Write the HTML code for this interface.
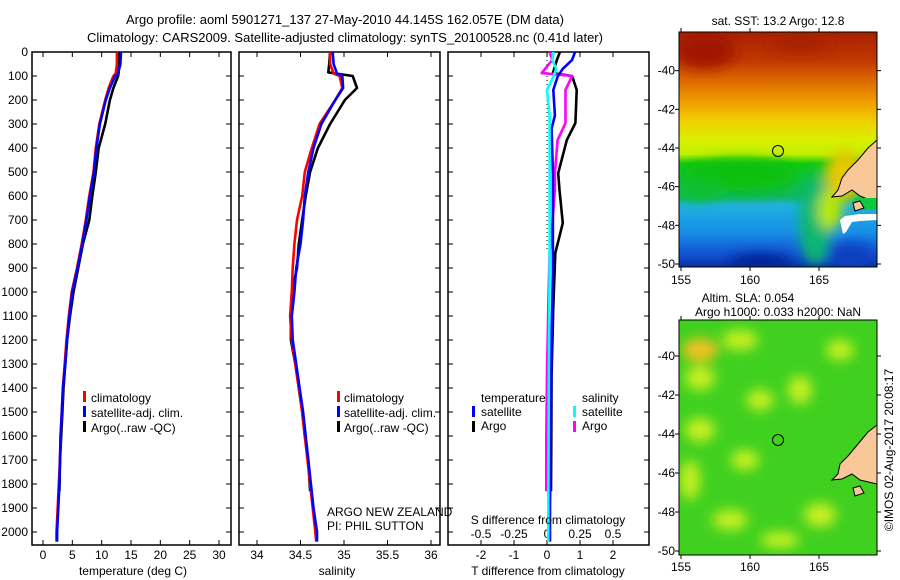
<!DOCTYPE html>
<html><head><meta charset="utf-8">
<style>
html,body{margin:0;padding:0;background:#fff;}
svg{display:block;font-family:"Liberation Sans",sans-serif;}
text{font-size:12px;fill:#000;}
</style></head>
<body>
<svg id="chart" width="900" height="580" viewBox="0 0 900 580" xmlns="http://www.w3.org/2000/svg">
<defs>
 <linearGradient id="sstGrad" x1="0" y1="0" x2="0" y2="1">
  <stop offset="0" stop-color="#a82000"/>
  <stop offset="0.12" stop-color="#c03800"/>
  <stop offset="0.22" stop-color="#e07000"/>
  <stop offset="0.3" stop-color="#f0a000"/>
  <stop offset="0.38" stop-color="#f0d000"/>
  <stop offset="0.46" stop-color="#d8f000"/>
  <stop offset="0.52" stop-color="#c0f000"/>
  <stop offset="0.56" stop-color="#10c810"/>
  <stop offset="0.7" stop-color="#10b860"/>
  <stop offset="0.74" stop-color="#20b0e0"/>
  <stop offset="0.85" stop-color="#1890e8"/>
  <stop offset="0.95" stop-color="#1050d0"/>
  <stop offset="1" stop-color="#0830a0"/>
 </linearGradient>
 <clipPath id="clipTop"><rect x="679" y="32" width="198" height="235"/></clipPath>
 <clipPath id="clipBot"><rect x="679" y="320" width="198" height="235"/></clipPath>
 <filter id="blur6"><feGaussianBlur stdDeviation="6"/></filter>
</defs>

<text x="345" y="24" text-anchor="middle" style="font-size:13px">Argo profile: aoml 5901271_137 27-May-2010 44.145S 162.057E (DM data)</text>
<text x="345" y="42" text-anchor="middle" style="font-size:13px">Climatology: CARS2009. Satellite-adjusted climatology: synTS_20100528.nc (0.41d later)</text>

<g id="p1"></g>
<g id="p2"></g>
<g id="p3"></g>

<g>
 <rect x="83" y="391" width="3" height="11" fill="#f00"/><text x="91" y="402">climatology</text>
 <rect x="83" y="406" width="3" height="11" fill="#00f"/><text x="91" y="417">satellite-adj. clim.</text>
 <rect x="83" y="421" width="3" height="11" fill="#000"/><text x="91" y="432">Argo(..raw -QC)</text>
</g>
<g>
 <rect x="337" y="391" width="3" height="11" fill="#f00"/><text x="344" y="402">climatology</text>
 <rect x="337" y="406" width="3" height="11" fill="#00f"/><text x="344" y="417">satellite-adj. clim.</text>
 <rect x="337" y="421" width="3" height="11" fill="#000"/><text x="344" y="432">Argo(..raw -QC)</text>
</g>
<g>
 <text x="481" y="402">temperature</text>
 <text x="582" y="402">salinity</text>
 <rect x="472" y="406" width="3" height="11" fill="#00f"/><text x="481" y="416">satellite</text>
 <rect x="472" y="421" width="3" height="11" fill="#000"/><text x="481" y="430">Argo</text>
 <rect x="573" y="406" width="3" height="11" fill="#0ff"/><text x="582" y="416">satellite</text>
 <rect x="573" y="421" width="3" height="11" fill="#f0f"/><text x="582" y="430">Argo</text>
</g>
<text x="327" y="516">ARGO NEW ZEALAND</text>
<text x="327" y="530">PI: PHIL SUTTON</text>

<g>
 <text x="778" y="25" text-anchor="middle">sat. SST: 13.2 Argo: 12.8</text>
 <g clip-path="url(#clipTop)">
  <rect x="679" y="32" width="198" height="235" fill="url(#sstGrad)"/>
  <g filter="url(#blur6)">
   <ellipse cx="705" cy="50" rx="30" ry="18" fill="#a01800"/>
   <ellipse cx="800" cy="42" rx="30" ry="10" fill="#a82000"/>
   <ellipse cx="740" cy="175" rx="55" ry="16" fill="#10c010"/>
   <ellipse cx="700" cy="190" rx="25" ry="10" fill="#10c030"/>
   <ellipse cx="815" cy="220" rx="16" ry="45" fill="#10b870"/>
   <ellipse cx="760" cy="262" rx="30" ry="8" fill="#002090"/>
   <ellipse cx="850" cy="255" rx="25" ry="12" fill="#1040c0"/>
   <ellipse cx="845" cy="175" rx="20" ry="25" fill="#e8c800"/>
   <ellipse cx="830" cy="210" rx="12" ry="20" fill="#b8e800"/>
  </g>
  <path d="M877,140 L868,148 L858,160 L848,170 L842,178 L838,190 L832,197 L842,196 L852,190 L860,196 L870,200 L877,200 Z" fill="#f8c898" stroke="#000" stroke-width="1"/>
  <path d="M855,198 L877,198 L877,210 L852,210 Z" fill="#10c840"/>
  <path d="M845,216 L860,214 L877,214 L877,220 L860,221 L852,222 L846,232 L843,234 L840,220 Z" fill="#ffffff"/>
  <path d="M853,203 L860,201 L864,208 L855,211 Z" fill="#f8c898" stroke="#000" stroke-width="1"/>
 </g>
 <rect x="679" y="32" width="198" height="235" fill="none" stroke="#000" stroke-width="1"/>
 <circle cx="778" cy="151" r="5.5" fill="none" stroke="#000" stroke-width="1"/>
</g>

<g>
 <text x="748" y="302" text-anchor="middle">Altim. SLA: 0.054</text>
 <text x="778" y="316" text-anchor="middle">Argo h1000: 0.033 h2000: NaN</text>
 <g clip-path="url(#clipBot)">
  <rect x="679" y="320" width="198" height="235" fill="#40d020"/>
  <g filter="url(#blur6)" fill="#c8f020">
   <ellipse cx="700" cy="350" rx="18" ry="12" fill="#f0c020"/>
   <ellipse cx="740" cy="340" rx="18" ry="10"/>
   <ellipse cx="700" cy="378" rx="15" ry="12"/>
   <ellipse cx="760" cy="400" rx="14" ry="10"/>
   <ellipse cx="700" cy="430" rx="15" ry="12"/>
   <ellipse cx="745" cy="460" rx="14" ry="10"/>
   <ellipse cx="800" cy="390" rx="12" ry="14"/>
   <ellipse cx="820" cy="515" rx="16" ry="12"/>
   <ellipse cx="730" cy="520" rx="18" ry="10"/>
   <ellipse cx="690" cy="480" rx="10" ry="20"/>
   <ellipse cx="840" cy="350" rx="14" ry="10"/>
   <ellipse cx="780" cy="540" rx="20" ry="8"/>
  </g>
  <path d="M877,425 L868,432 L858,444 L848,456 L840,464 L838,474 L832,480 L842,479 L852,474 L860,480 L877,484 Z" fill="#f8c898" stroke="#000" stroke-width="1"/>
  <path d="M853,488 L860,486 L864,493 L855,496 Z" fill="#f8c898" stroke="#000" stroke-width="1"/>
 </g>
 <rect x="679" y="320" width="198" height="235" fill="none" stroke="#000" stroke-width="1"/>
 <circle cx="778" cy="440" r="5.5" fill="none" stroke="#000" stroke-width="1"/>
</g>
<text transform="translate(893,450) rotate(-90)" text-anchor="middle">©IMOS 02-Aug-2017 20:08:17</text>

<script>
const depthTicks = [0,100,200,300,400,500,600,700,800,900,1000,1100,1200,1300,1400,1500,1600,1700,1800,1900,2000];
const tempTicks = [0,5,10,15,20,25,30];
const salTicks = [34,34.5,35,35.5,36];
const tDiffTicks = [-2,-1,0,1,2];
const sDiffTicks = [-0.5,-0.25,0,0.25,0.5];

const climDepth = [0,50,90,100,150,200,300,400,500,600,700,800,900,1000,1100,1200,1300,1400,1500,1600,1700,1800,1900,2000,2040];
const tempClim = [12.6,12.6,12.4,12.0,11.2,10.6,9.6,9.0,8.6,7.9,7.3,6.6,5.8,4.9,4.4,4.0,3.7,3.4,3.2,3.0,2.9,2.7,2.5,2.3,2.3];
const tempSat = [13.3,13.2,12.8,12.3,11.4,10.7,9.7,9.1,8.7,8.0,7.4,6.7,5.9,5.0,4.5,4.1,3.8,3.4,3.2,3.0,2.9,2.8,2.6,2.4,2.4];
const salClim = [34.84,34.84,34.88,34.95,34.98,34.90,34.72,34.63,34.55,34.52,34.46,34.43,34.41,34.40,34.38,34.40,34.44,34.48,34.52,34.55,34.58,34.61,34.64,34.67,34.68];
const salSat = [34.87,34.88,34.92,34.98,34.99,34.90,34.74,34.65,34.59,34.55,34.53,34.50,34.45,34.43,34.40,34.41,34.45,34.49,34.53,34.56,34.59,34.62,34.65,34.69,34.69];

const argoDepth = [0,50,85,100,150,200,300,400,500,600,700,800,900,1000,1100,1200,1300,1400,1500,1600,1700,1830];
const tempArgo = [12.9,12.9,12.9,12.8,12.0,11.4,10.6,9.5,9.0,8.4,7.9,6.8,6.0,5.2,4.6,4.1,3.8,3.5,3.3,3.1,2.9,2.8];
const salArgo = [34.84,34.83,34.82,35.10,35.15,35.01,34.84,34.70,34.61,34.56,34.52,34.48,34.46,34.40,34.39,34.39,34.44,34.48,34.52,34.55,34.59,34.61];

const diffArgoDepth = [0,33,88,100,158,296,367,505,575,713,838,1062,1338,1617,1830];
const tDiffArgo = [0.39,0.3,0.18,0.76,0.9,0.86,0.6,0.34,0.38,0.48,0.25,0.19,0.14,0.13,0.12];
const sDiffArgo = [0.02,0.04,-0.04,0.19,0.14,0.14,0.08,0.06,0.06,0.04,0.02,0.01,0.0,-0.005,-0.005];
const diffSatDepth = [0,33,70,100,158,264,319,505,921,1200,1896,2040];
const tDiffSat = [0.85,0.76,0.48,0.33,0.19,0.24,0.14,0.18,0.18,0.14,0.09,0.09];
const sDiffSat = [0.05,0.04,0.07,0.05,0.0,0.02,0.02,0.02,0.02,0.015,0.01,0.01];

const latTicks = [-40,-42,-44,-46,-48,-50];
const lonTicks = [155,160,165];

const NS = 'http://www.w3.org/2000/svg';
const svg = document.getElementById('chart');
function mk(tag, parent){ const e = document.createElementNS(NS, tag); (parent||svg).appendChild(e); return e; }
const yTop = 52, yBot = 545, pxPerM = 0.24;
function yD(d){ return yTop + d * pxPerM; }
function linScale(v0, p0, v1, p1){ return v => p0 + (v - v0) * (p1 - p0) / (v1 - v0); }

function frame(g, x0, x1){
  const r = mk('rect', g);
  r.setAttribute('x', x0); r.setAttribute('y', yTop); r.setAttribute('width', x1-x0); r.setAttribute('height', yBot-yTop);
  r.setAttribute('fill','none'); r.setAttribute('stroke','#000'); r.setAttribute('stroke-width','1.5');
  
  
  depthTicks.forEach(d => {
    [[x0, x0+5],[x1-5, x1]].forEach(p => {
      const l = mk('line', g);
      l.setAttribute('x1', p[0]); l.setAttribute('x2', p[1]); l.setAttribute('y1', yD(d)); l.setAttribute('y2', yD(d));
      l.setAttribute('stroke','#000');
    });
  });
}
function xTicks(g, vals, sx, yLab, labels){
  vals.forEach((v,i) => {
    const x = sx(v);
    [[yBot-5,yBot],[yTop,yTop+5]].forEach(p => {
      const l = mk('line', g);
      l.setAttribute('x1', x); l.setAttribute('x2', x); l.setAttribute('y1', p[0]); l.setAttribute('y2', p[1]);
      l.setAttribute('stroke','#000');
    });
    const t = mk('text', g);
    t.setAttribute('x', x); t.setAttribute('y', yLab); t.setAttribute('text-anchor','middle');
    t.textContent = labels[i];
    
    
  });
}
function line(g, depths, vals, sx, color, name){
  const p = mk('polyline', g);
  p.setAttribute('points', depths.map((d,i) => sx(vals[i]).toFixed(1)+','+yD(d).toFixed(1)).join(' '));
  p.setAttribute('fill','none'); p.setAttribute('stroke', color); p.setAttribute('stroke-width','2.6');
  p.setAttribute('stroke-linejoin','round');
  
  
}

const g1 = document.getElementById('p1');
const sxT = linScale(0, 43, 30, 219);
frame(g1, 32, 231);
depthTicks.forEach(d => {
  const t = mk('text', g1);
  t.setAttribute('x', 28); t.setAttribute('y', yD(d)+4); t.setAttribute('text-anchor','end');
  t.textContent = d;
  
  
});
xTicks(g1, tempTicks, sxT, 559, tempTicks.map(String));
line(g1, argoDepth, tempArgo, sxT, '#000', 'argo-temperature-line');
line(g1, climDepth, tempClim, sxT, '#f00', 'climatology-temperature-line');
line(g1, climDepth, tempSat, sxT, '#00f', 'satellite-temperature-line');
const xl1 = mk('text', g1); xl1.setAttribute('x',133); xl1.setAttribute('y',575); xl1.setAttribute('text-anchor','middle'); xl1.textContent='temperature (deg C)';



const g2 = document.getElementById('p2');
const sxS = linScale(34, 257, 36, 431);
frame(g2, 239, 440);
xTicks(g2, salTicks, sxS, 559, salTicks.map(String));
line(g2, argoDepth, salArgo, sxS, '#000', 'argo-salinity-line');
line(g2, climDepth, salClim, sxS, '#f00', 'climatology-salinity-line');
line(g2, climDepth, salSat, sxS, '#00f', 'satellite-salinity-line');
const xl2 = mk('text', g2); xl2.setAttribute('x',337); xl2.setAttribute('y',575); xl2.setAttribute('text-anchor','middle'); xl2.textContent='salinity';



const g3 = document.getElementById('p3');
const sxdT = linScale(0, 547, 1, 580);
const sxdS = linScale(0, 547, 0.5, 613);
frame(g3, 448, 649);
xTicks(g3, tDiffTicks, sxdT, 559, tDiffTicks.map(String));
sDiffTicks.forEach(v => {
  const t = mk('text', g3);
  t.setAttribute('x', sxdS(v)); t.setAttribute('y', 538); t.setAttribute('text-anchor','middle');
  t.textContent = String(v);
  
  
  const l = mk('line', g3);
  l.setAttribute('x1', sxdS(v)); l.setAttribute('x2', sxdS(v)); l.setAttribute('y1', 540); l.setAttribute('y2', 545); l.setAttribute('stroke','#000');
});
const zl = mk('line', g3);
zl.setAttribute('x1', sxdT(0)); zl.setAttribute('x2', sxdT(0)); zl.setAttribute('y1', yD(0)); zl.setAttribute('y2', yD(830));
zl.setAttribute('stroke','#000'); zl.setAttribute('stroke-dasharray','1,3');


line(g3, diffArgoDepth, tDiffArgo, sxdT, '#000', 'argo-t-diff-line');
line(g3, diffArgoDepth, sDiffArgo, sxdS, '#f0f', 'argo-s-diff-line');
line(g3, diffSatDepth, tDiffSat, sxdT, '#00f', 'satellite-t-diff-line');
line(g3, diffSatDepth, sDiffSat, sxdS, '#0ff', 'satellite-s-diff-line');
const sl = mk('text', g3); sl.setAttribute('x',548); sl.setAttribute('y',524); sl.setAttribute('text-anchor','middle'); sl.textContent='S difference from climatology';


const tl = mk('text', g3); tl.setAttribute('x',548); tl.setAttribute('y',575); tl.setAttribute('text-anchor','middle'); tl.textContent='T difference from climatology';



function mapAxes(top, bot, latPx, lonY){
  latTicks.forEach(v => {
    const y = latPx(v);
    const t = mk('text');
    t.setAttribute('x', 675); t.setAttribute('y', y+4); t.setAttribute('text-anchor','end'); t.textContent = v;
    
    
    [[675,679],[877,881]].forEach(p => {
      const l = mk('line'); l.setAttribute('x1',p[0]); l.setAttribute('x2',p[1]); l.setAttribute('y1',y); l.setAttribute('y2',y); l.setAttribute('stroke','#000');
    });
  });
  const sxLon = linScale(155, 681, 165, 819);
  lonTicks.forEach(v => {
    const x = sxLon(v);
    const t = mk('text');
    t.setAttribute('x', x); t.setAttribute('y', lonY); t.setAttribute('text-anchor','middle'); t.textContent = v;
    
    
    [[bot,bot+4],[top-4,top]].forEach(p => {
      const l = mk('line'); l.setAttribute('x1',x); l.setAttribute('x2',x); l.setAttribute('y1',p[0]); l.setAttribute('y2',p[1]); l.setAttribute('stroke','#000');
    });
  });
}
mapAxes(32, 267, linScale(-44, 148, -50, 264), 284);
mapAxes(320, 555, linScale(-40, 356, -50, 551), 571);
</script>
</svg>
</body></html>
